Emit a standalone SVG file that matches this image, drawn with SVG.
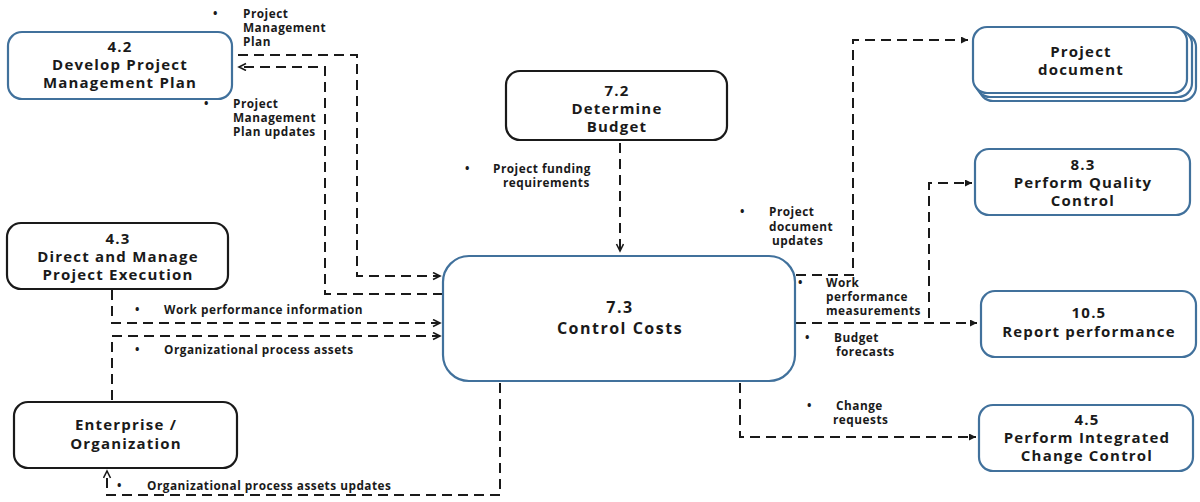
<svg xmlns="http://www.w3.org/2000/svg" width="1200" height="502" viewBox="0 0 1200 502">
  <style>
    .blue { fill: #ffffff; stroke: #41719c; stroke-width: 2.2; }
    .dark { fill: #ffffff; stroke: #1a1a1a; stroke-width: 2.2; }
    .nt { font-family: "Open Sans", "Liberation Sans", sans-serif; font-weight: bold; font-size: 15px; letter-spacing: 1.2px; fill: #1a1a1a; text-anchor: middle; }
    .big { font-size: 16px; letter-spacing: 1.5px; }
    .lb { font-family: "Open Sans", "Liberation Sans", sans-serif; font-weight: bold; font-size: 11.8px; letter-spacing: 0.5px; fill: #1a1a1a; }
    .flow { fill: none; stroke: #1a1a1a; stroke-width: 2; stroke-dasharray: 10 6; }
  </style>
  <defs>
    <marker id="open" markerWidth="10" markerHeight="10" refX="8" refY="4" orient="auto" markerUnits="userSpaceOnUse">
      <path d="M1,0.5 L8,4 L1,7.5" fill="none" stroke="#1a1a1a" stroke-width="1.6"/>
    </marker>
    <marker id="solid" markerWidth="10" markerHeight="10" refX="7" refY="3.5" orient="auto" markerUnits="userSpaceOnUse">
      <path d="M0,0 L7,3.5 L0,7 Z" fill="#1a1a1a"/>
    </marker>
  </defs>

  <!-- connectors -->
  <g id="connectors">
    <path class="flow" d="M238,55 H357 V276 H440" marker-end="url(#open)"/>
    <path class="flow" d="M443,294 H325 V67 H239" marker-end="url(#open)"/>
    <path class="flow" d="M620,143 V251" marker-end="url(#open)"/>
    <path class="flow" d="M112,290 V323 H440" marker-end="url(#open)"/>
    <path class="flow" d="M112,400 V336 H440" marker-end="url(#open)"/>
    <path class="flow" d="M500,383 V495 H107 V471" marker-end="url(#open)"/>
    <path class="flow" d="M796,275 H853 V40 H968" marker-end="url(#solid)"/>
    <path class="flow" d="M796,323 H977" marker-end="url(#solid)"/>
    <path class="flow" d="M929,318 V183 H972" marker-end="url(#solid)"/>
    <path class="flow" d="M740,383 V437 H976" marker-end="url(#solid)"/>
  </g>

  <!-- 4.2 Develop Project Management Plan -->
  <g id="n42">
    <rect class="blue" x="8" y="32" width="224" height="67" rx="14"/>
    <text class="nt" x="120" y="52">4.2</text>
    <text class="nt" x="120" y="70">Develop Project</text>
    <text class="nt" x="120" y="88">Management Plan</text>
  </g>

  <!-- 7.2 Determine Budget -->
  <g id="n72">
    <rect class="dark" x="506" y="71" width="221" height="69" rx="14"/>
    <text class="nt" x="617" y="96">7.2</text>
    <text class="nt" x="617" y="114">Determine</text>
    <text class="nt" x="617" y="132">Budget</text>
  </g>

  <!-- Project document (stacked) -->
  <g id="ndoc">
    <rect class="blue" x="979" y="33" width="217" height="68" rx="14" stroke-width="1.6"/>
    <rect class="blue" x="976" y="30" width="216" height="67" rx="14" stroke-width="1.6"/>
    <rect class="blue" x="973" y="27" width="214" height="66" rx="14"/>
    <text class="nt" x="1081" y="57">Project</text>
    <text class="nt" x="1081" y="75">document</text>
  </g>

  <!-- 8.3 Perform Quality Control -->
  <g id="n83">
    <rect class="blue" x="975" y="149" width="215" height="66" rx="14"/>
    <text class="nt" x="1083" y="170">8.3</text>
    <text class="nt" x="1083" y="188">Perform Quality</text>
    <text class="nt" x="1083" y="206">Control</text>
  </g>

  <!-- 4.3 Direct and Manage Project Execution -->
  <g id="n43">
    <rect class="dark" x="7" y="223" width="221" height="66" rx="14"/>
    <text class="nt" x="118" y="244">4.3</text>
    <text class="nt" x="118" y="262">Direct and Manage</text>
    <text class="nt" x="118" y="280">Project Execution</text>
  </g>

  <!-- 7.3 Control Costs -->
  <g id="n73">
    <rect class="blue" x="443" y="256" width="352" height="125" rx="26"/>
    <text class="nt big" x="620" y="313">7.3</text>
    <text class="nt big" x="620" y="334">Control Costs</text>
  </g>

  <!-- 10.5 Report performance -->
  <g id="n105">
    <rect class="blue" x="981" y="291" width="215" height="66" rx="14"/>
    <text class="nt" x="1089" y="318">10.5</text>
    <text class="nt" x="1089" y="337">Report performance</text>
  </g>

  <!-- Enterprise / Organization -->
  <g id="nent">
    <rect class="dark" x="14" y="402" width="223" height="66" rx="14"/>
    <text class="nt" x="126" y="430">Enterprise /</text>
    <text class="nt" x="126" y="449">Organization</text>
  </g>

  <!-- 4.5 Perform Integrated Change Control -->
  <g id="n45">
    <rect class="blue" x="979" y="405" width="214" height="66" rx="14"/>
    <text class="nt" x="1087" y="425">4.5</text>
    <text class="nt" x="1087" y="443">Perform Integrated</text>
    <text class="nt" x="1087" y="461">Change Control</text>
  </g>

  <!-- flow labels -->
  <g id="labels">
    <text class="lb" x="213" y="18">•</text>
    <text class="lb" x="243" y="18">Project</text>
    <text class="lb" x="243" y="32">Management</text>
    <text class="lb" x="243" y="46">Plan</text>

    <text class="lb" x="204" y="108">•</text>
    <text class="lb" x="233" y="108">Project</text>
    <text class="lb" x="233" y="122">Management</text>
    <text class="lb" x="233" y="136">Plan updates</text>

    <text class="lb" x="465" y="173">•</text>
    <text class="lb" x="493" y="173">Project funding</text>
    <text class="lb" x="503" y="187">requirements</text>

    <text class="lb" x="740" y="216">•</text>
    <text class="lb" x="769" y="216">Project</text>
    <text class="lb" x="769" y="231">document</text>
    <text class="lb" x="772" y="245">updates</text>

    <text class="lb" x="135" y="314">•</text>
    <text class="lb" x="164" y="314">Work performance information</text>

    <text class="lb" x="135" y="354">•</text>
    <text class="lb" x="164" y="354">Organizational process assets</text>

    <text class="lb" x="117" y="490">•</text>
    <text class="lb" x="147" y="490">Organizational process assets updates</text>

    <text class="lb" x="798" y="287">•</text>
    <text class="lb" x="826" y="287">Work</text>
    <text class="lb" x="826" y="301">performance</text>
    <text class="lb" x="826" y="315">measurements</text>

    <text class="lb" x="805" y="342">•</text>
    <text class="lb" x="834" y="342">Budget</text>
    <text class="lb" x="836" y="356">forecasts</text>

    <text class="lb" x="807" y="410">•</text>
    <text class="lb" x="836" y="410">Change</text>
    <text class="lb" x="833" y="424">requests</text>
  </g>
</svg>
